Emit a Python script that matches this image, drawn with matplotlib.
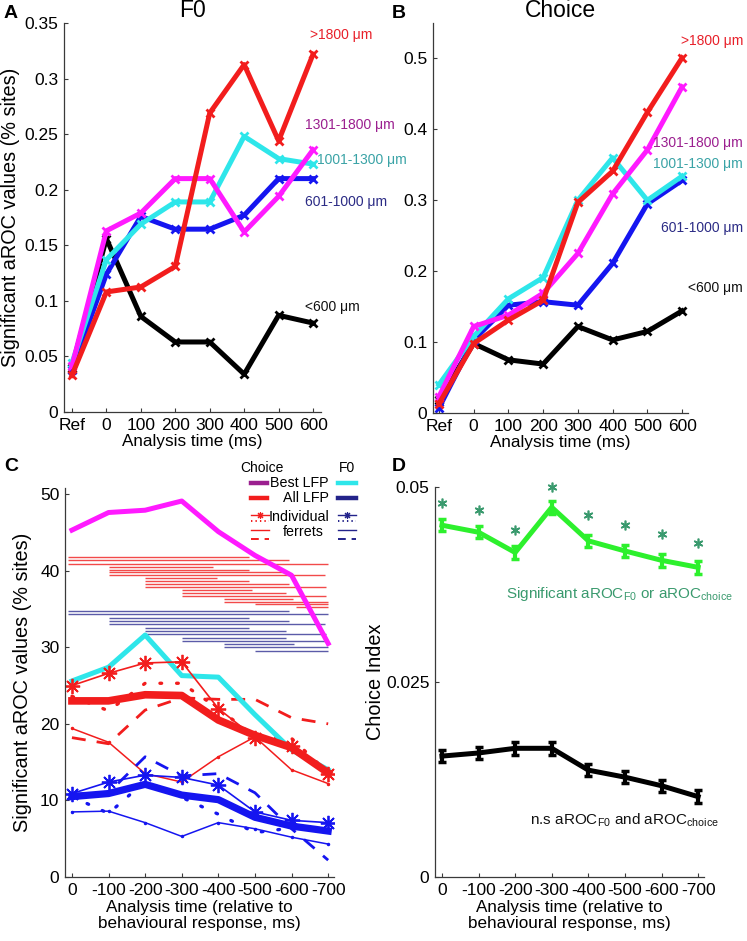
import matplotlib
matplotlib.use('Agg')
import matplotlib.pyplot as plt
from matplotlib.lines import Line2D

plt.rcParams['font.family'] = ['Liberation Sans', 'DejaVu Sans']
plt.rcParams['mathtext.fontset'] = 'custom'
plt.rcParams['mathtext.rm'] = 'Liberation Sans'

# ---------------- data ----------------
ab_xticklabels = ['Ref', '0', '100', '200', '300', '400', '500', '600']
depth_names = ['<600 \u03bcm', '601-1000 \u03bcm', '1001-1300 \u03bcm', '1301-1800 \u03bcm', '>1800 \u03bcm']

f0_lt600 = [0.040, 0.156, 0.086, 0.063, 0.063, 0.034, 0.087, 0.080]
f0_601_1000 = [0.038, 0.124, 0.176, 0.1645, 0.1645, 0.177, 0.210, 0.210]
f0_1001_1300 = [0.044, 0.137, 0.169, 0.189, 0.189, 0.248, 0.228, 0.223]
f0_1301_1800 = [0.041, 0.163, 0.179, 0.210, 0.210, 0.162, 0.194, 0.236]
f0_gt1800 = [0.033, 0.108, 0.1125, 0.131, 0.269, 0.3126, 0.244, 0.322]

ch_lt600 = [0.019, 0.098, 0.075, 0.069, 0.122, 0.103, 0.115, 0.144]
ch_601_1000 = [0.007, 0.103, 0.152, 0.157, 0.152, 0.211, 0.295, 0.328]
ch_1001_1300 = [0.040, 0.108, 0.161, 0.191, 0.300, 0.360, 0.300, 0.334]
ch_1301_1800 = [0.023, 0.122, 0.138, 0.169, 0.225, 0.309, 0.371, 0.460]
ch_gt1800 = [0.013, 0.098, 0.131, 0.159, 0.297, 0.341, 0.424, 0.501]

cd_xticklabels = ['0', '-100', '-200', '-300', '-400', '-500', '-600', '-700']

best_lfp_choice = [45.3, 47.6, 47.9, 49.1, 45.1, 42.0, 39.4, 30.5]
best_lfp_f0 = [25.6, 27.4, 31.6, 26.3, 26.1, 21.2, 16.6, 14.0]
all_lfp_choice = [23.0, 23.0, 23.8, 23.7, 20.5, 18.5, 16.9, 13.6]
all_lfp_f0 = [10.5, 10.9, 12.1, 10.7, 10.1, 7.8, 6.65, 6.0]

ferret1_choice = [25.0, 26.6, 27.95, 28.1, 22.0, 18.2, 17.1, 13.5]
ferret2_choice = [23.6, 21.7, 25.3, 25.3, 22.0, 18.3, 18.1, 13.6]
ferret3_choice = [19.4, 17.6, 13.5, 12.4, 15.7, 18.3, 14.0, 12.2]
ferret4_choice = [18.2, 17.4, 21.8, 23.4, 23.2, 23.2, 20.8, 20.0]

ferret1_f0 = [10.9, 12.4, 13.3, 13.0, 12.0, 8.5, 7.4, 7.1]
ferret2_f0 = [10.5, 8.3, 12.5, 10.4, 8.2, 5.8, 6.4, 6.0]
ferret3_f0 = [8.5, 8.6, 7.1, 5.3, 7.1, 6.3, 5.2, 4.3]
ferret4_f0 = [10.8, 11.0, 15.7, 13.2, 13.5, 11.0, 6.3, 2.2]

# significance bars (y level, start index, end index)
choice_bar_y = [41.74, 41.35, 40.91, 40.52, 40.13, 39.78, 39.39, 39.00, 38.61,
                38.26, 37.87, 37.48, 37.09, 36.74, 36.30, 35.96, 35.61, 35.22]
choice_bar_start = [-0.1, -0.1, -0.1, 1.0, 1.0, 1.0, 1.0, 2.0, 2.0,
                    2.0, 2.0, 3.0, 3.0, 3.0, 4.16, 4.16, 5.0, 6.13]
choice_bar_end = [4.85, 5.92, 6.99, 3.85, 4.85, 5.92, 6.92, 3.97, 4.85,
                  5.92, 6.95, 4.91, 5.85, 6.95, 6.05, 6.99, 6.99, 6.99]
f0_bar_y = [34.74, 34.30, 33.82, 33.48, 33.04, 32.57, 32.18, 31.74, 31.26,
            30.83, 30.39, 30.00, 29.52]
f0_bar_start = [-0.1, -0.1, 1.0, 1.0, 1.0, 2.0, 2.0, 2.0, 3.0, 3.0, 4.16, 4.16, 5.0]
f0_bar_end = [5.92, 6.99, 4.85, 5.94, 6.92, 4.85, 5.85, 6.95, 5.85, 6.95, 6.08, 6.99, 6.99]

ci_sig = [0.0451, 0.0442, 0.0416, 0.0474, 0.0431, 0.0418, 0.0406, 0.0397]
ci_sig_err = [0.0008, 0.0008, 0.0008, 0.0008, 0.0008, 0.0008, 0.0008, 0.0008]
ci_sig_star = [0.0479, 0.04705, 0.0445, 0.0500, 0.0464, 0.0451, 0.0440, 0.0428]
ci_ns = [0.0155, 0.0159, 0.0165, 0.0165, 0.0137, 0.0128, 0.0117, 0.0103]
ci_ns_err = [0.0008, 0.0008, 0.0008, 0.0008, 0.0008, 0.0008, 0.0008, 0.0008]

# ---------------- figure ----------------
W, H = 747, 941
fig = plt.figure(figsize=(W / 100, H / 100), dpi=100)


def rect(l, t, r, b):
    return [l / W, 1 - b / H, (r - l) / W, (b - t) / H]


def fx(px):
    return px / W


def fy(py):
    return 1 - py / H


AX_COL = '#3a3a3a'
TICK_FS = 12.5


def style(ax):
    for s in ['top', 'right']:
        ax.spines[s].set_visible(False)
    for s in ['left', 'bottom']:
        ax.spines[s].set_color(AX_COL)
        ax.spines[s].set_linewidth(0.9)
    ax.tick_params(direction='in', length=3, width=0.8, labelsize=TICK_FS,
                   color=AX_COL, pad=4)


RED = '#f21d1d'
MAG = '#ff1aff'
CYA = '#2ee6ea'
BLU = '#1515f0'
BLK = '#000000'
line_cols = [BLK, BLU, CYA, MAG, RED]
label_cols = ['#111111', '#2b2b85', '#3aa3a6', '#9b1f8f', '#e8202a']
DEPTH_FS = 10

# ---- Panel A ----
axA = fig.add_axes(rect(64, 23, 321, 412))
style(axA)
xs = list(range(len(ab_xticklabels)))
for series, c in zip([f0_lt600, f0_601_1000, f0_1001_1300, f0_1301_1800, f0_gt1800], line_cols):
    axA.plot(xs, series, color=c, lw=3.6, marker='x', ms=6, mew=2)
axA.set_xlim(-0.23, 7.23)
axA.set_ylim(0, 0.35)
axA.set_xticks(xs)
axA.set_xticklabels(ab_xticklabels)
axA.set_yticks([0, 0.05, 0.1, 0.15, 0.2, 0.25, 0.3, 0.35])
axA.set_yticklabels(['0', '0.05', '0.1', '0.15', '0.2', '0.25', '0.3', '0.35'])
axA.set_xlabel('Analysis time (ms)', fontsize=12.3, labelpad=1)
axA.set_ylabel('Significant aROC values (% sites)', fontsize=14.3, labelpad=3)
axA.set_title('F0', fontsize=16.5, pad=4)
A_lab_pos = [(6.77, 0.0945), (6.77, 0.189), (7.12, 0.227), (6.77, 0.258), (6.91, 0.339)]
for name, (tx, ty), c in zip(depth_names, A_lab_pos, label_cols):
    axA.text(tx, ty, name, color=c, fontsize=DEPTH_FS, va='center', ha='left', clip_on=False)

# ---- Panel B ----
axB = fig.add_axes(rect(433, 23, 688, 413))
style(axB)
for series, c in zip([ch_lt600, ch_601_1000, ch_1001_1300, ch_1301_1800, ch_gt1800], line_cols):
    axB.plot(xs, series, color=c, lw=3.6, marker='x', ms=6, mew=2)
axB.set_xlim(-0.17, 7.17)
axB.set_ylim(0, 0.55)
axB.set_xticks(xs)
axB.set_xticklabels(ab_xticklabels)
axB.set_yticks([0, 0.1, 0.2, 0.3, 0.4, 0.5])
axB.set_yticklabels(['0', '0.1', '0.2', '0.3', '0.4', '0.5'])
axB.set_xlabel('Analysis time (ms)', fontsize=12.3, labelpad=1)
axB.set_title('Choice', fontsize=16.5, pad=4)
B_lab_y = [288, 228, 164, 143, 41]   # label centres in figure pixels (right-aligned at edge)
for name, py, c in zip(depth_names, B_lab_y, label_cols):
    fig.text(fx(743), fy(py), name, color=c, fontsize=DEPTH_FS, va='center', ha='right')

# ---- Panel C ----
axC = fig.add_axes(rect(65, 488, 334, 877))
style(axC)
xc = list(range(len(cd_xticklabels)))
axC.hlines(choice_bar_y, choice_bar_start, choice_bar_end, colors='#f24a4a', lw=1.0)
axC.hlines(f0_bar_y, f0_bar_start, f0_bar_end, colors='#5b5ba8', lw=1.0)

star = (8, 2, 0)
axC.plot(xc, ferret3_choice, color=RED, lw=1.1, marker='.', ms=3)
axC.plot(xc, ferret4_choice, color=RED, lw=2.0, ls=(0, (5, 4)))
axC.plot(xc, ferret2_choice, color=RED, lw=2.4, ls=(0, (0.5, 4.5)), dash_capstyle='round')
axC.plot(xc, ferret3_f0, color=BLU, lw=1.1, marker='.', ms=3)
axC.plot(xc, ferret4_f0, color=BLU, lw=2.0, ls=(0, (5, 4)))
axC.plot(xc, ferret2_f0, color=BLU, lw=2.4, ls=(0, (0.5, 4.5)), dash_capstyle='round')
axC.plot(xc, all_lfp_f0, color=BLU, lw=5.2)
axC.plot(xc, ferret1_f0, color=BLU, lw=1.2, marker=star, ms=11, mew=1.3)
axC.plot(xc, best_lfp_f0, color=CYA, lw=3.6)
axC.plot(xc, all_lfp_choice, color=RED, lw=5.5)
axC.plot(xc, ferret1_choice, color=RED, lw=1.2, marker=star, ms=11, mew=1.3)
axC.plot(xc, best_lfp_choice, color=MAG, lw=3.6)

axC.set_xlim(-0.19, 7.16)
axC.set_ylim(0, 50.8)
axC.set_xticks(xc)
axC.set_xticklabels(cd_xticklabels)
axC.set_yticks([0, 10, 20, 30, 40, 50])
axC.set_xlabel('Analysis time (relative to\nbehavioural response, ms)', fontsize=12.3,
               labelpad=2, linespacing=1.05)
axC.set_ylabel('Significant aROC values (% sites)', fontsize=14.3, labelpad=6)

# ---- Panel C legend (drawn manually in figure pixels) ----
def leg_line(x0, x1, y, **kw):
    fig.add_artist(Line2D([fx(x0), fx(x1)], [fy(y), fy(y)], transform=fig.transFigure, **kw))


NAVY = '#23238a'
LEG_FS = 10.3
fig.text(fx(262), fy(468), 'Choice', fontsize=10, ha='center', va='center')
fig.text(fx(347), fy(468), 'F0', fontsize=10, ha='center', va='center')
fig.text(fx(329), fy(483), 'Best LFP', fontsize=LEG_FS, ha='right', va='center')
fig.text(fx(329), fy(498), 'All LFP', fontsize=LEG_FS, ha='right', va='center')
fig.text(fx(329), fy(517), 'Individual', fontsize=LEG_FS, ha='right', va='center')
fig.text(fx(303), fy(532), 'ferrets', fontsize=LEG_FS, ha='center', va='center')
leg_line(251, 267, 483, color='#9b1f8f', lw=3.2)
leg_line(251, 267, 498, color=RED, lw=3.2)
leg_line(338, 356, 483, color=CYA, lw=3.2)
leg_line(338, 356, 498, color=NAVY, lw=3.2)
for x0, x1, col in [(251, 269, RED), (338, 356, NAVY)]:
    fig.add_artist(Line2D([fx(x0), fx((x0 + x1) / 2), fx(x1)], [fy(515), fy(515), fy(515)],
                          transform=fig.transFigure, color=col, lw=1.0,
                          marker=star, markevery=[1], ms=5, mew=0.8))
    leg_line(x0, x1, 521, color=col, lw=1.4, ls=(0, (0.7, 1.6)))
    leg_line(x0, x1, 530, color=col, lw=1.0)
    leg_line(x0, x1, 539, color=col, lw=1.4, ls=(0, (4, 3)))

# ---- Panel D ----
axD = fig.add_axes(rect(435, 487, 704, 877))
style(axD)
GRN = '#2df02d'
STAR_G = '#3a9a6e'
axD.errorbar(xc, ci_sig, yerr=ci_sig_err, color=GRN, lw=3.6, elinewidth=3, capsize=3, capthick=2.5)
axD.errorbar(xc, ci_ns, yerr=ci_ns_err, color=BLK, lw=3.6, elinewidth=3, capsize=3, capthick=2.5)
axD.plot(xc, ci_sig_star, ls='none', marker=(6, 2, 0), ms=7, mew=1.2, color=STAR_G, clip_on=False)
axD.set_xlim(-0.19, 7.16)
axD.set_ylim(0, 0.05)
axD.set_xticks(xc)
axD.set_xticklabels(cd_xticklabels)
axD.set_yticks([0, 0.025, 0.05])
axD.set_yticklabels(['0', '0.025', '0.05'])
axD.set_xlabel('Analysis time (relative to\nbehavioural response, ms)', fontsize=12.3,
               labelpad=2, linespacing=1.05)
axD.set_ylabel('Choice Index', fontsize=14.3, labelpad=1)
axD.text(1.75, 0.0363, r'Significant aROC$_{\mathregular{F0}}$ or aROC$_{\mathregular{choice}}$',
         color=STAR_G, fontsize=11, va='center', ha='left', clip_on=False)
axD.text(2.41, 0.0073, r'n.s aROC$_{\mathregular{F0}}$ and aROC$_{\mathregular{choice}}$',
         color='#111111', fontsize=11, va='center', ha='left', clip_on=False)

# ---- panel letters ----
for letter, px, py in [('A', 11, 13), ('B', 399, 13), ('C', 11, 467), ('D', 399, 467)]:
    fig.text(fx(px), fy(py), letter, fontsize=14, fontweight='bold', ha='center', va='center')

fig.savefig('out.png', dpi=100)
